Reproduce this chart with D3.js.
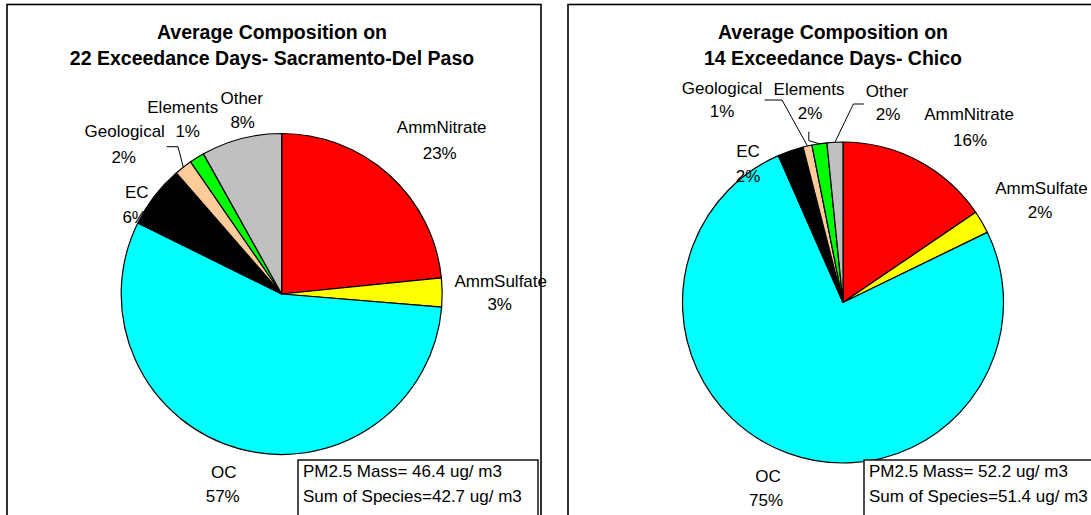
<!DOCTYPE html>
<html>
<head>
<meta charset="utf-8">
<script src="https://cdn.jsdelivr.net/npm/d3@7"></script>
<style>
  body { margin: 0; background: #fff; }
  svg { display: block; font-family: "Liberation Sans", Arial, sans-serif; }
</style>
</head>
<body>
<div id="chart"></div>
<script>
//species categories, same order (clockwise from 12 o'clock) for both pies
const categories = ["AmmNitrate", "AmmSulfate", "OC", "EC", "Geological", "Elements", "Other"];
const sliceColors = ["#ff0000", "#ffff00", "#00ffff", "#000000", "#ffcc99", "#00ff00", "#c0c0c0"];

//Sacramento-Del Paso
const sacTitle = ["Average Composition on", "22 Exceedance Days- Sacramento-Del Paso"];
const sacValues = [23.4, 2.9, 56.0, 6.3, 1.8, 1.5, 8.1];
const sacPercent = ["23%", "3%", "57%", "6%", "2%", "1%", "8%"];
const sacNotes = ["PM2.5 Mass= 46.4 ug/ m3", "Sum of Species=42.7 ug/ m3"];

//Chico
const chicoTitle = ["Average Composition on", "14 Exceedance Days- Chico"];
const chicoValues = [15.5, 2.3, 75.6, 2.6, 0.9, 1.5, 1.6];
const chicoPercent = ["16%", "2%", "75%", "2%", "1%", "2%", "2%"];
const chicoNotes = ["PM2.5 Mass= 52.2 ug/ m3", "Sum of Species=51.4 ug/ m3"];

const W = 1091, H = 515;

//layout: label positions relative to pie centre [nameX, nameY, pctX, pctY]
const sacLayout = {
  panel: { x: 7, y: 4.5, w: 534 },
  cx: 281.7, cy: 294, r: 160.5,
  labels: {
    AmmNitrate: [160, -161, 158, -135],
    AmmSulfate: [219, -7, 218, 16],
    OC: [-58, 184, -59, 208],
    EC: [-145, -96, -147, -71],
    Geological: [-157, -157, -158, -131],
    Elements: [-99, -181, -94, -157],
    Other: [-40, -190, -39, -166]
  },
  leaders: { Geological: [[-115, -147.3], [-103.7, -147.3]] },
  note: { x: 298, y: 460, w: 240 }
};
const chicoLayout = {
  panel: { x: 568, y: 4.5, w: 534 },
  cx: 843, cy: 302.5, r: 160.5,
  labels: {
    AmmNitrate: [126, -182.5, 127, -156.5],
    AmmSulfate: [198.5, -108.5, 197, -84.5],
    OC: [-75, 179.5, -77, 203.5],
    EC: [-95, -145.5, -95, -120.5],
    Geological: [-121, -208.5, -121, -185.5],
    Elements: [-34, -207.5, -33, -183.5],
    Other: [44, -205.5, 45, -182.5]
  },
  leaders: {
    Geological: [[-78.5, -202.5], [-61, -202.5]],
    Elements: [[-34.2, -170.8], [-34.2, -161.8]],
    Other: [[20.8, -198.5], [10.4, -198.5]]
  },
  note: { x: 864, y: 460, w: 240 }
};

const svg = d3.select("#chart").append("svg")
  .attr("width", W).attr("height", H);
svg.append("rect").attr("width", W).attr("height", H).attr("fill", "#fff");

drawPanel(svg, sacTitle, sacValues, sacPercent, sacNotes, sacLayout);
drawPanel(svg, chicoTitle, chicoValues, chicoPercent, chicoNotes, chicoLayout);

//one chart area: frame, title, pie, labels, note box
function drawPanel(svg, title, values, percents, notes, layout) {
  const p = layout.panel;
  svg.append("rect")
    .attr("x", p.x).attr("y", p.y)
    .attr("width", p.w).attr("height", H + 20)
    .attr("fill", "none").attr("stroke", "#000").attr("stroke-width", 1.6);

  //title
  svg.append("g").selectAll("text")
    .data(title)
    .enter().append("text")
      .attr("x", p.x + p.w / 2 - 2)
      .attr("y", (d, i) => 39 + i * 25.5)
      .attr("text-anchor", "middle")
      .style("font-size", "19.5px").style("font-weight", "bold")
      .text(d => d);

  const data = categories.map((c, i) => ({ name: c, value: values[i], pct: percents[i], color: sliceColors[i] }));
  const pie = d3.pie().sort(null).value(d => d.value).startAngle(0).endAngle(2 * Math.PI);
  const arcs = pie(data);
  const arc = d3.arc().innerRadius(0).outerRadius(layout.r);

  const g = svg.append("g").attr("transform", `translate(${layout.cx},${layout.cy})`);
  g.selectAll("path")
    .data(arcs)
    .enter().append("path")
      .attr("d", arc)
      .attr("fill", d => d.data.color)
      .attr("stroke", "#000").attr("stroke-width", 1.2)
      .attr("stroke-linejoin", "round");

  //leader lines: elbow from the label, then to the slice edge
  arcs.filter(d => layout.leaders[d.data.name]).forEach(d => {
    const mid = (d.startAngle + d.endAngle) / 2;
    const pts = layout.leaders[d.data.name].concat([d3.pointRadial(mid, layout.r)]);
    g.append("path")
      .attr("d", d3.line()(pts))
      .attr("fill", "none").attr("stroke", "#000").attr("stroke-width", 1);
  });

  //labels (name + percent)
  const lab = g.selectAll("g.lab")
    .data(arcs)
    .enter().append("g").attr("class", "lab");
  lab.append("text")
    .attr("x", d => layout.labels[d.data.name][0])
    .attr("y", d => layout.labels[d.data.name][1])
    .attr("text-anchor", "middle")
    .style("font-size", "17px")
    .text(d => d.data.name);
  lab.append("text")
    .attr("x", d => layout.labels[d.data.name][2])
    .attr("y", d => layout.labels[d.data.name][3])
    .attr("text-anchor", "middle")
    .style("font-size", "17px")
    .text(d => d.data.pct);

  //mass note box
  const n = layout.note;
  svg.append("rect")
    .attr("x", n.x).attr("y", n.y)
    .attr("width", n.w).attr("height", 80)
    .attr("fill", "#fff").attr("stroke", "#000").attr("stroke-width", 1.4);
  svg.append("g").selectAll("text")
    .data(notes)
    .enter().append("text")
      .attr("x", n.x + 5)
      .attr("y", (d, i) => n.y + 17 + i * 25)
      .style("font-size", "17px")
      .text(d => d);
}
</script>
</body>
</html>
